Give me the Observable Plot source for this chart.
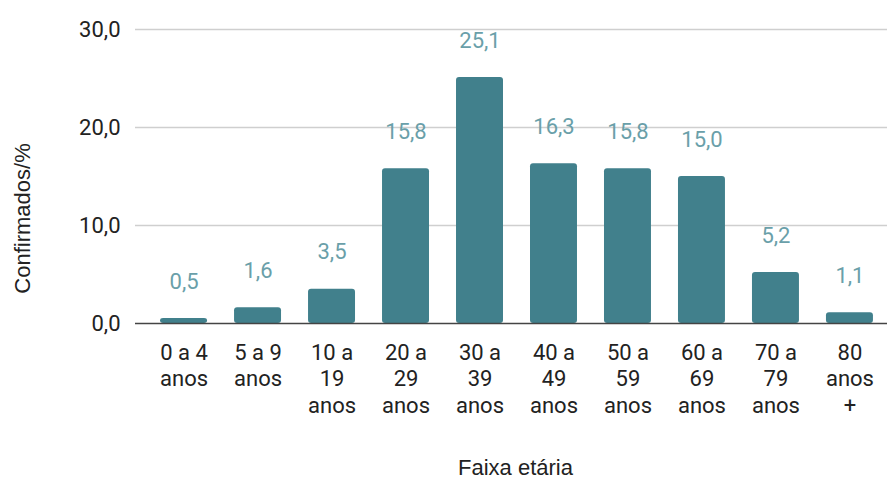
<!DOCTYPE html>
<html><head><meta charset="utf-8">
<script src="https://cdn.jsdelivr.net/npm/d3@7"></script>
<script src="https://cdn.jsdelivr.net/npm/@observablehq/plot@0.6"></script>
<style>body{margin:0;background:#fff;font-family:Roboto,sans-serif}</style>
</head><body><div id="chart"></div>
<script>
const categories = ["0 a 4 anos","5 a 9 anos","10 a 19 anos","20 a 29 anos","30 a 39 anos","40 a 49 anos","50 a 59 anos","60 a 69 anos","70 a 79 anos","80 anos +"];
const tickLabels = ["0 a 4\nanos","5 a 9\nanos","10 a\n19\nanos","20 a\n29\nanos","30 a\n39\nanos","40 a\n49\nanos","50 a\n59\nanos","60 a\n69\nanos","70 a\n79\nanos","80\nanos\n+"];
const values = [0.5,1.6,3.5,15.8,25.1,16.3,15.8,15.0,5.2,1.1];
const yTicks = [0,10,20,30];

const data = categories.map((c,i)=>({cat:c, label:tickLabels[i], v:values[i]}));
const fmt = v => v.toFixed(1).replace(".", ",");

const chart = Plot.plot({
  width: 887, height: 480,
  marginTop: 29, marginBottom: 157, marginLeft: 135, marginRight: 0,
  style: {fontFamily: "Roboto, sans-serif", background: "#fff"},
  x: {domain: categories, paddingInner: 0.365, paddingOuter: 0.19, insetLeft: 11, round: false, label: null},
  y: {domain: [0,30], ticks: yTicks, label: null},
  marks: [
    Plot.ruleY(yTicks.slice(1), {stroke: "#cfcfcf", strokeWidth: 1.5}),
    Plot.barY(data, {x: "cat", y: "v", fill: "#41808c", rx: 3}),
    Plot.ruleY([0], {stroke: "#444", strokeWidth: 1.5}),
    Plot.text(data, {x: "cat", y: "v", text: d => fmt(d.v), dy: -37, fill: "#6a9fa9", fontSize: 22, lineAnchor: "middle"}),
    Plot.axisY({ticks: yTicks, tickSize: 0, tickPadding: 15, tickFormat: fmt, fontSize: 22, fill: "#222", label: null}),
    Plot.axisX({tickSize: 0, tickPadding: 17, tickFormat: (d,i) => tickLabels[categories.indexOf(d)], fontSize: 22, fill: "#222", lineHeight: 1.22, label: null}),
    Plot.text(["Faixa etária"], {frameAnchor: "bottom", dy: 144, dx: 4, fontSize: 22, fontFamily: "'Liberation Sans', Arial, sans-serif", fill: "#222", lineAnchor: "middle"}),
    Plot.text(["Confirmados/%"], {frameAnchor: "left", dx: -113, dy: 42, rotate: -90, textAnchor: "middle", fontSize: 22, fontFamily: "'Liberation Sans', Arial, sans-serif", fill: "#222", lineAnchor: "middle"})
  ]
});
document.getElementById("chart").append(chart);
</script></body></html>
